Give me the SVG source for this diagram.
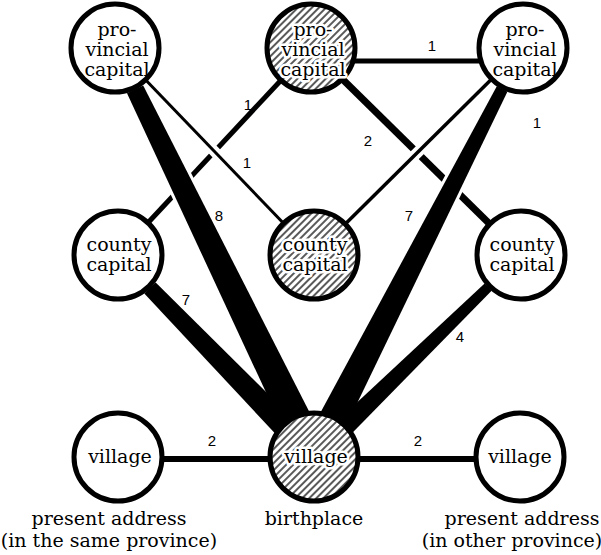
<svg xmlns="http://www.w3.org/2000/svg" width="601" height="555" viewBox="0 0 601 555">
<defs>
<pattern id="hatch" width="5" height="5" patternUnits="userSpaceOnUse" patternTransform="rotate(45)">
<rect width="5" height="5" fill="#fff"/>
<line x1="1" y1="0" x2="1" y2="5" stroke="#000" stroke-width="1.3"/>
</pattern>
</defs>
<style>
.node{fill:#fff;stroke:#000;stroke-width:5}
.hn{fill:url(#hatch);stroke:#000;stroke-width:5}
.t{font-family:"DejaVu Serif","Liberation Serif",serif;font-size:19px;fill:#000;text-anchor:middle}
.th{stroke:#fff;stroke-width:5;paint-order:stroke;stroke-linejoin:round}
.num{font-family:"Liberation Sans","DejaVu Sans",sans-serif;font-size:15px;fill:#000;text-anchor:middle}
.ln{stroke:#000;fill:none}
.halo{stroke:#fff;fill:none}
.band{fill:#000}
.bhalo{fill:#fff;stroke:#fff;stroke-width:6;stroke-linejoin:round}
</style>
<rect width="601" height="555" fill="#fff"/>
<g id="connectors">
<line class="ln" x1="353" y1="61" x2="481" y2="61" stroke-width="5"/>
<line class="ln" x1="281" y1="80.2" x2="148" y2="222.8" stroke-width="5"/>
<line class="ln" x1="342.3" y1="78.9" x2="489.7" y2="224.1" stroke-width="7"/>
<line class="halo" x1="145.5" y1="79.7" x2="283.5" y2="223.3" stroke-width="11"/>
<line class="ln" x1="145.5" y1="79.7" x2="283.5" y2="223.3" stroke-width="3"/>
<line class="halo" x1="491.7" y1="79" x2="345.3" y2="224" stroke-width="11"/>
<line class="ln" x1="491.7" y1="79" x2="345.3" y2="224" stroke-width="3.5"/>
<line class="ln" x1="160" y1="459" x2="272" y2="459" stroke-width="6"/>
<line class="ln" x1="356" y1="459" x2="478" y2="459" stroke-width="6"/>
<polygon class="bhalo" points="143.2,85.5 319.6,432 290.9,446 127,93.3"/>
<polygon class="bhalo" points="507.4,91.7 336.5,446 309.7,432.4 496.8,86.3"/>
<polygon class="bhalo" points="155.7,282.4 308.7,434.2 291.5,451 144.3,293.6"/>
<polygon class="bhalo" points="491.6,290.7 335.3,450.2 321.3,435.8 484.6,283.5"/>
<polygon class="band" points="143.2,85.5 319.6,432 290.9,446 127,93.3"/>
<polygon class="band" points="507.4,91.7 336.5,446 309.7,432.4 496.8,86.3"/>
<polygon class="band" points="155.7,282.4 308.7,434.2 291.5,451 144.3,293.6"/>
<polygon class="band" points="491.6,290.7 335.3,450.2 321.3,435.8 484.6,283.5"/>
<text class="num" x="432" y="51">1</text>
<text class="num" x="248" y="110">1</text>
<text class="num" x="247" y="168">1</text>
<text class="num" x="537" y="128">1</text>
<text class="num" x="368" y="146">2</text>
<text class="num" x="219" y="221">8</text>
<text class="num" x="409" y="221">7</text>
<text class="num" x="186" y="305">7</text>
<text class="num" x="460" y="342">4</text>
<text class="num" x="212" y="446">2</text>
<text class="num" x="418" y="446">2</text>
</g>
<g id="n-tl"><circle class="node" cx="115" cy="48" r="44"/><text class="t"><tspan x="117" y="36">pro-</tspan><tspan x="117" y="56">vincial</tspan><tspan x="117" y="76">capital</tspan></text></g>
<g id="n-tm"><circle class="hn" cx="311" cy="48" r="44"/><text class="t th"><tspan x="313" y="36">pro-</tspan><tspan x="313" y="56">vincial</tspan><tspan x="313" y="76">capital</tspan></text></g>
<g id="n-tr"><circle class="node" cx="523" cy="48" r="44"/><text class="t"><tspan x="525" y="36">pro-</tspan><tspan x="525" y="56">vincial</tspan><tspan x="525" y="76">capital</tspan></text></g>
<g id="n-ml"><circle class="node" cx="118" cy="255" r="44"/><text class="t"><tspan x="119" y="251">county</tspan><tspan x="119" y="271">capital</tspan></text></g>
<g id="n-mm"><circle class="hn" cx="314" cy="255" r="44"/><text class="t th"><tspan x="315" y="251">county</tspan><tspan x="315" y="271">capital</tspan></text></g>
<g id="n-mr"><circle class="node" cx="521" cy="255" r="44"/><text class="t"><tspan x="522" y="251">county</tspan><tspan x="522" y="271">capital</tspan></text></g>
<g id="n-bl"><circle class="node" cx="118" cy="457" r="44"/><text class="t" x="120" y="463">village</text></g>
<g id="n-bm"><circle class="hn" cx="314" cy="457" r="44"/><text class="t th" x="316" y="463">village</text></g>
<g id="n-br"><circle class="node" cx="520" cy="457" r="44"/><text class="t" x="520" y="463">village</text></g>
<g id="captions">
<text class="t"><tspan x="109" y="525">present address</tspan><tspan x="109" y="547">(in the same province)</tspan></text>
<text class="t" x="314" y="525">birthplace</text>
<text class="t"><tspan x="522" y="525">present address</tspan><tspan x="512" y="547">(in other province)</tspan></text>
</g>
</svg>
